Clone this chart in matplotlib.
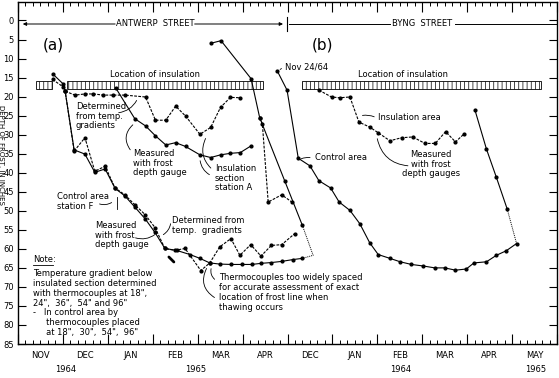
import numpy as np
import matplotlib.pyplot as plt
from matplotlib.patches import Rectangle
import matplotlib

matplotlib.rcParams.update(
    {
        "font.family": ["Liberation Sans Narrow", "DejaVu Sans"],
        "font.size": 6,
        "hatch.linewidth": 0.5,
        "axes.linewidth": 1.0,
    }
)

# x = months after 1 Nov 1964 (Antwerp St. Nov-Apr, Byng St. Dec-May), y = depth in inches
month_labels = ["NOV", "DEC", "JAN", "FEB", "MAR", "APR", "DEC", "JAN", "FEB", "MAR", "APR", "MAY"]
year_labels = ["1964", "1965", "1964", "1965"]
year_pos = [1.05, 3.96, 8.52, 11.52]

# (a) Antwerp Street - insulation section, station A
a_gauge_m = [2.18, 2.60, 2.84, 3.06, 3.29, 3.51, 3.73, 4.05, 4.29, 4.51, 4.73, 4.95, 5.18]
a_gauge_d = [17.8, 25.8, 27.7, 30.3, 32.7, 32.1, 33.1, 35.3, 36.0, 35.3, 34.9, 34.7, 33.0]
a_temp_m = [1.05, 1.27, 1.49, 1.68, 1.90, 2.12, 2.38, 2.84, 3.06, 3.29, 3.51, 3.73, 4.05, 4.29, 4.51, 4.73, 4.95]
a_temp_d = [18.6, 19.6, 19.3, 19.3, 19.6, 19.6, 19.6, 20.1, 26.2, 26.2, 22.5, 25.1, 29.9, 28.1, 22.8, 20.2, 20.3]

# (a) control area, station F
f_gauge_m = [0.77, 1.00, 1.05, 1.25, 1.49, 1.71, 1.94, 2.16, 2.38, 2.60, 2.83, 3.05, 3.27, 3.53,
             3.83, 4.05, 4.27, 4.49, 4.75, 4.98, 5.20, 5.42, 5.64, 5.87, 6.13, 6.33]
f_gauge_d = [14.0, 16.6, 18.6, 34.0, 35.1, 39.9, 39.0, 44.1, 46.1, 49.0, 52.1, 55.7, 59.9, 60.4,
             61.5, 62.5, 63.7, 64.0, 64.1, 64.1, 64.1, 63.8, 63.6, 63.3, 62.8, 62.5]
f_temp_m = [0.77, 1.00, 1.05, 1.25, 1.49, 1.71, 1.94, 2.16, 2.38, 2.60, 2.83, 3.05, 3.27, 3.49,
            3.72, 4.07, 4.27, 4.49, 4.74, 4.94, 5.18, 5.41, 5.64, 5.87, 6.16]
f_temp_d = [15.5, 17.4, 18.6, 34.3, 30.8, 39.6, 38.3, 44.0, 45.8, 48.4, 51.0, 54.4, 59.9, 60.4,
            59.9, 65.7, 63.7, 59.5, 57.3, 61.7, 58.9, 61.9, 59.1, 58.9, 56.0]

# (a) thawing from the surface
a_thaw_m = [4.29, 4.52, 5.19, 5.38, 5.94, 6.33]
a_thaw_d = [6.0, 5.3, 15.3, 25.5, 42.2, 53.8]
a_thaw_end_m = [6.33, 6.57, 6.33]
a_thaw_end_d = [53.8, 61.7, 62.5]
a_thaw_temp_m = [5.38, 5.44, 5.57, 5.87, 6.11]
a_thaw_temp_d = [25.5, 27.1, 47.7, 45.8, 47.8]

# (b) Byng Street - control area and insulation area
b_ctrl_m = [5.77, 5.99, 6.24, 6.50, 6.70, 6.96, 7.15, 7.39, 7.61, 7.83, 8.02, 8.28, 8.51, 8.76,
            9.02, 9.28, 9.50, 9.74, 9.98, 10.15, 10.43, 10.65, 10.87, 11.10]
b_ctrl_d = [13.2, 18.3, 36.2, 38.2, 42.1, 44.0, 47.7, 49.9, 53.4, 58.4, 61.5, 62.5, 63.4, 64.1,
            64.5, 65.0, 65.0, 65.6, 65.3, 63.7, 63.4, 61.7, 60.5, 58.6]
b_ins_m = [6.70, 6.98, 7.16, 7.39, 7.59, 7.83, 8.02, 8.28, 8.54, 8.79, 9.06, 9.29, 9.52, 9.74, 9.94]
b_ins_d = [18.3, 20.1, 20.3, 20.1, 26.7, 28.0, 29.5, 31.6, 30.8, 30.6, 32.3, 32.3, 29.2, 31.9, 29.7]
b_thaw_m = [10.17, 10.43, 10.65, 10.89]
b_thaw_d = [23.4, 33.8, 41.2, 49.5]
b_thaw_end_m = [10.89, 11.10]
b_thaw_end_d = [49.5, 58.6]

# insulation layers (start month, end month), depth range
insulation_spans = [(0.39, 0.75), (1.10, 5.45), (6.33, 11.65)]
insulation_top, insulation_bottom = 16.0, 18.1


def px(x, y):
    """Reference-picture pixel -> data coordinates (used only for label placement)."""
    return (x - 18) / 44.95, (y - 20.5) / 3.806


fig = plt.figure(figsize=(5.59, 3.78), dpi=100)
ax = fig.add_axes([18 / 559, 1 - 344 / 378, 539 / 559, 342 / 378])
ax.set_xlim(0, 12)
ax.set_ylim(85, -4.86)

# ticks
ax.set_xticks(np.arange(0, 13))
ax.set_xticks([i + k / 6 for i in range(12) for k in range(1, 6)], minor=True)
ax.tick_params(axis="x", which="major", direction="in", length=7.5, width=0.8,
               top=True, bottom=True, labelbottom=False)
ax.tick_params(axis="x", which="minor", direction="in", length=3, width=0.7, top=True, bottom=True)
ax.set_yticks(np.arange(0, 90, 5))
ax.tick_params(axis="y", direction="in", length=6, width=0.8, right=True, labelsize=6, pad=3)

txt = dict(color="black", clip_on=False)
for i, lab in enumerate(month_labels):
    ax.text(i + 0.5, px(0, 356)[1], lab, ha="center", va="center", family="DejaVu Sans", fontsize=6, **txt)
for pos, lab in zip(year_pos, year_labels):
    ax.text(pos, px(0, 370)[1], lab, ha="center", va="center", family="DejaVu Sans", fontsize=6, **txt)

# axis title sits half off the page in the scan
ax.text(*px(1.0, 155), "DEPTH OF FROST, IN INCHES", rotation=270, ha="center", va="center",
        family="DejaVu Sans", fontsize=5, **txt)

# street headers
ya = px(0, 24)[1]
ax.annotate("", xy=(px(20, 0)[0], ya), xytext=(px(118, 0)[0], ya),
            arrowprops=dict(arrowstyle="-|>", lw=0.7, color="black", mutation_scale=5))
ax.annotate("", xy=(px(286, 0)[0], ya), xytext=(px(192, 0)[0], ya),
            arrowprops=dict(arrowstyle="-|>", lw=0.7, color="black", mutation_scale=5))
ax.plot([px(287, 0)[0]] * 2, [px(0, 17)[1], px(0, 31)[1]], color="black", lw=0.8)
ax.plot([px(289, 0)[0], px(390, 0)[0]], [ya, ya], color="black", lw=0.7)
ax.plot([px(455, 0)[0], 12], [ya, ya], color="black", lw=0.7)
ax.text(*px(155, 24), "ANTWERP  STREET", ha="center", va="center", family="DejaVu Sans", fontsize=6)
ax.text(*px(422, 24), "BYNG  STREET", ha="center", va="center", family="DejaVu Sans", fontsize=6)

ax.text(*px(53, 45), "(a)", ha="center", va="center", family="DejaVu Sans", fontsize=11)
ax.text(*px(323, 45), "(b)", ha="center", va="center", family="DejaVu Sans", fontsize=11)

# insulation layers
for x0, x1 in insulation_spans:
    ax.add_patch(Rectangle((x0, insulation_top), x1 - x0, insulation_bottom - insulation_top,
                           facecolor="white", edgecolor="black", hatch="||||", lw=0.6, zorder=2))
ax.text(*px(155, 75), "Location of insulation", ha="center", va="center")
ax.text(*px(403, 75), "Location of insulation", ha="center", va="center")

line = dict(color="black", lw=0.8, marker="o", ms=2, zorder=3)
dash = (0, (2.5, 1.2))

ax.plot(a_gauge_m, a_gauge_d, ls="-", **line)
ax.plot(a_temp_m, a_temp_d, ls=dash, **line)
ax.plot(f_gauge_m, f_gauge_d, ls="-", **line)
ax.plot(f_temp_m, f_temp_d, ls=dash, **line)
ax.plot(a_thaw_m, a_thaw_d, ls="-", **line)
ax.plot(a_thaw_end_m, a_thaw_end_d, ls=(0, (1, 1)), color="black", lw=0.7, zorder=3)
ax.plot(a_thaw_temp_m, a_thaw_temp_d, ls=dash, **line)
ax.plot(b_ctrl_m, b_ctrl_d, ls="-", **line)
ax.plot(b_ins_m, b_ins_d, ls=dash, **line)
ax.plot(b_thaw_m, b_thaw_d, ls="-", **line)
ax.plot(b_thaw_end_m, b_thaw_end_d, ls=(0, (1, 1)), color="black", lw=0.7, zorder=3)

# stray mark in the scan
ax.plot(*zip(px(169, 257), px(174, 262)), color="black", lw=2, solid_capstyle="round")

# annotations
ax.text(*px(76, 102), "Determined\nfrom temp.\ngradients", ha="left", va="top", linespacing=1.1)
ax.text(*px(133, 149), "Measured\nwith frost\ndepth gauge", ha="left", va="top", linespacing=1.1)
ax.text(*px(215, 164), "Insulation\nsection\nstation A", ha="left", va="top", linespacing=1.1)
ax.text(*px(57, 192), "Control area\nstation F", ha="left", va="top", linespacing=1.1)
ax.text(*px(95, 221), "Measured\nwith frost\ndepth gauge", ha="left", va="top", linespacing=1.1)
ax.text(*px(172, 216), "Determined from\ntemp.  gradients", ha="left", va="top", linespacing=1.1)
ax.text(*px(33, 260), "Note:", ha="left", va="center")
ax.plot(*zip(px(33, 265), px(53, 265)), color="black", lw=0.6)
ax.text(*px(33, 269),
        "Temperature gradient below\ninsulated section determined\nwith thermocouples at 18\",\n"
        "24\",  36\",  54\" and 96\"\n-   In control area by\n     thermocouples placed\n"
        "     at 18\",  30\",  54\",  96\"",
        ha="left", va="top", linespacing=1.12)
ax.text(*px(219, 273),
        "Thermocouples too widely spaced\nfor accurate assessment of exact\n"
        "location of frost line when\nthawing occurs",
        ha="left", va="top", linespacing=1.12)
ax.text(*px(285, 67), "Nov 24/64", ha="left", va="center")
ax.text(*px(378, 118), "Insulation area", ha="left", va="center")
ax.text(*px(315, 158), "Control area", ha="left", va="center")
ax.text(*px(431, 150), "Measured\nwith frost\ndepth gauges", ha="center", va="top", linespacing=1.1)

ptr = dict(arrowstyle="-", lw=0.6, color="black")
pointers = [
    ((116, 113), (138, 98), 0.3),
    ((132, 152), (135, 123), -0.5),
    ((213, 170), (207, 136), -0.4),
    ((212, 176), (200, 158), -0.3),
    ((97, 203), (114, 201), 0.3),
    ((133, 237), (157, 233), 0.3),
    ((171, 221), (161, 236), -0.3),
    ((217, 281), (212, 266), -0.4),
    ((217, 299), (208, 266), -0.5),
    ((284, 67), (278, 71), 0.0),
    ((377, 118), (360, 116), 0.2),
    ((313, 158), (299, 160), 0.2),
    ((411, 166), (377, 136), -0.4),
]
for src, dst, rad in pointers:
    ax.annotate("", xy=px(*dst), xytext=px(*src),
                arrowprops=dict(connectionstyle=f"arc3,rad={rad}", **ptr))
# bracket for station F
ax.plot(*zip(px(117, 197), px(117, 209)), color="black", lw=0.6)

fig.savefig("out.png", dpi=100)
